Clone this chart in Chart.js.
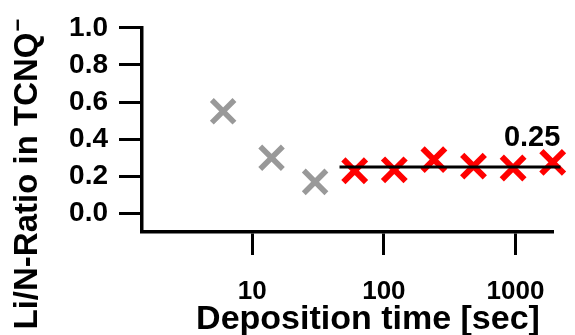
<!DOCTYPE html>
<html><head><meta charset="utf-8">
<script src="https://cdn.jsdelivr.net/npm/chart.js@4/dist/chart.umd.min.js"></script>
<style>html,body{margin:0;padding:0;background:#fff}canvas{display:block}</style>
</head><body>
<canvas id="c" width="575" height="335"></canvas>
<script>
// ---- data ----
const grayTimes = [6, 14, 30];
const grayRatios = [0.55, 0.30, 0.17];
const redTimes = [60, 120, 240, 480, 960, 1920];
const redRatios = [0.23, 0.235, 0.29, 0.255, 0.245, 0.275];
const fitTimes = [46, 2200];
const fitRatios = [0.25, 0.25];
const fitLabel = '0.25';
const fitLabelTime = 1340;
const xTickValues = [10, 100, 1000];
const yTickValues = [0.0, 0.2, 0.4, 0.6, 0.8, 1.0];
const xTitle = 'Deposition time [sec]';
const yTitle = 'Li/N-Ratio in TCNQ';
const yTitleSup = '\u2212';

const FONT = "'Liberation Sans', Arial, sans-serif";
const pts = (xs, ys) => xs.map((x, i) => ({x, y: ys[i]}));

const textPlugin = {
  id: 'texts',
  afterDraw(chart) {
    const ctx = chart.ctx;
    const xs = chart.scales.x, ys = chart.scales.y;
    ctx.save();
    ctx.fillStyle = '#000';
    // fit label
    ctx.font = `bold 29px ${FONT}`;
    ctx.textAlign = 'center';
    ctx.textBaseline = 'alphabetic';
    ctx.fillText(fitLabel, xs.getPixelForValue(fitLabelTime), ys.getPixelForValue(fitRatios[0]) - 21);
    // x title
    ctx.font = `bold 34px ${FONT}`;
    ctx.fillText(xTitle, 368, 329);
    // y title
    ctx.translate(37, 181);
    ctx.rotate(-Math.PI / 2);
    ctx.font = `bold 33px ${FONT}`;
    const w = ctx.measureText(yTitle).width;
    ctx.textAlign = 'left';
    ctx.fillText(yTitle, -w / 2, 0);
    ctx.font = `bold 22px ${FONT}`;
    ctx.fillText(yTitleSup, w / 2 + 1, -12);
    ctx.restore();
  }
};

new Chart(document.getElementById('c'), {
  type: 'scatter',
  data: {
    datasets: [
      {
        type: 'line', data: pts(fitTimes, fitRatios), borderColor: '#000', borderWidth: 3,
        pointRadius: 0, clip: false, order: 0, showLine: true
      },
      {
        data: pts(grayTimes, grayRatios), pointStyle: 'crossRot', pointRadius: 16,
        pointBorderWidth: 5.5, borderColor: '#999999', backgroundColor: '#999999', order: 1
      },
      {
        data: pts(redTimes, redRatios), pointStyle: 'crossRot', pointRadius: 16,
        pointBorderWidth: 6, borderColor: '#ff0000', backgroundColor: '#ff0000', order: 1, clip: false
      }
    ]
  },
  options: {
    responsive: false,
    animation: false,
    layout: {padding: {top: 25, right: 15, left: 0, bottom: 0}},
    plugins: {legend: {display: false}, tooltip: {enabled: false}},
    scales: {
      x: {
        type: 'logarithmic', position: 'bottom', min: 1.45, max: 1930,
        afterBuildTicks: s => { s.ticks = xTickValues.map(v => ({value: v})); },
        afterFit: s => { s.height = 103; },
        ticks: {font: {family: FONT, weight: 'bold', size: 26}, color: '#000', padding: 21, maxRotation: 0, autoSkip: false,
                callback: v => String(v)},
        grid: {drawOnChartArea: false, drawTicks: true, tickLength: 23, tickWidth: 3, tickColor: '#000'},
        border: {display: true, color: '#000', width: 3.5}
      },
      y: {
        type: 'linear', min: -0.1, max: 1.0,
        afterBuildTicks: s => { s.ticks = yTickValues.map(v => ({value: v})); },
        afterFit: s => { s.width = 142; },
        ticks: {font: {family: FONT, weight: 'bold', size: 28}, color: '#000', padding: 11, callback: v => v.toFixed(1)},
        grid: {drawOnChartArea: false, drawTicks: true, tickLength: 23, tickWidth: 3, tickColor: '#000'},
        border: {display: true, color: '#000', width: 3.5}
      }
    }
  },
  plugins: [textPlugin]
});
</script>
</body></html>
